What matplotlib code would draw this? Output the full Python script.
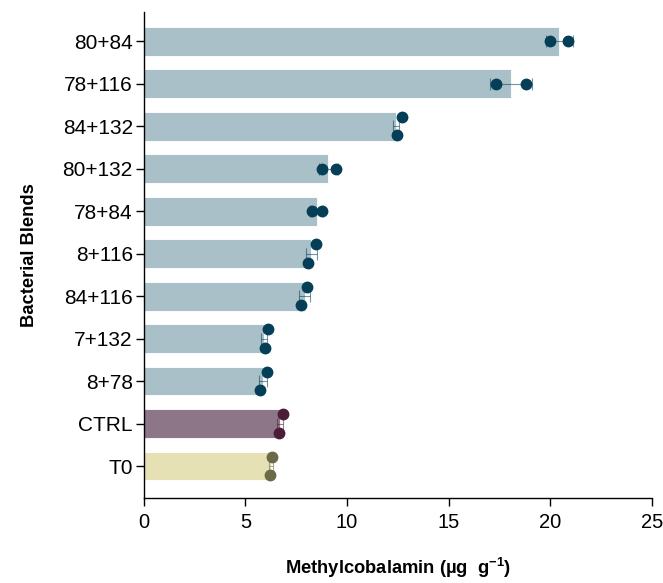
import numpy as np
import matplotlib
matplotlib.use('agg')
from matplotlib import pyplot as plt

plt.rcParams['font.family'] = ['Liberation Sans', 'DejaVu Sans']
plt.rcParams['mathtext.fontset'] = 'custom'
plt.rcParams['mathtext.bf'] = 'Liberation Sans:bold'
plt.rcParams['mathtext.rm'] = 'Liberation Sans'
plt.rcParams['mathtext.default'] = 'bf'

# blends, top to bottom
blends = ['80+84', '78+116', '84+132', '80+132', '78+84', '8+116',
          '84+116', '7+132', '8+78', 'CTRL', 'T0']
means = [20.45, 18.06, 12.4, 9.08, 8.5, 8.25, 7.92, 5.9, 5.87, 6.72, 6.27]
sds = [0.65, 1.03, 0.15, 0.48, 0.3, 0.25, 0.27, 0.15, 0.2, 0.15, 0.1]
rep1 = [19.98, 17.32, 12.46, 8.77, 8.27, 8.07, 7.73, 5.94, 5.74, 6.66, 6.2]
rep2 = [20.87, 18.8, 12.7, 9.45, 8.77, 8.46, 8.05, 6.1, 6.05, 6.86, 6.31]

bar_col = {'blend': '#a9c0c8', 'CTRL': '#8c7687', 'T0': '#e5e1b5'}
dot_col = {'blend': '#053f57', 'CTRL': '#4b1d38', 'T0': '#6b6a48'}

fig, ax = plt.subplots(figsize=(6.63, 5.83), dpi=100)
fig.subplots_adjust(left=0.217, right=0.983, top=0.979, bottom=0.146)

n = len(blends)
ypos = np.arange(n)[::-1]
for i, name in enumerate(blends):
    key = name if name in ('CTRL', 'T0') else 'blend'
    y = ypos[i]
    ax.barh(y, means[i], height=0.68, color=bar_col[key],
            edgecolor='white', linewidth=0.6, zorder=1)
    ax.errorbar(means[i], y, xerr=sds[i], fmt='none', ecolor=dot_col[key],
                elinewidth=0.8, capsize=4, capthick=0.8, alpha=0.55, zorder=2)
    lo, hi = sorted([rep1[i], rep2[i]])
    # nudge overlapping replicates apart vertically
    dy = 0.22 if hi - lo < 0.45 else 0.0
    ax.plot([lo, hi], [y - dy, y + dy], 'o', color=dot_col[key],
            markersize=7.5, zorder=3, linestyle='none')

ax.set_yticks(ypos)
ax.set_yticklabels(blends, fontsize=15)
ax.set_ylim(-0.75, n - 1 + 0.68)
ax.set_xlim(0, 25)
ax.set_xticks([0, 5, 10, 15, 20, 25])
ax.tick_params(axis='x', labelsize=14.5, length=6, width=1, pad=5)
ax.tick_params(axis='y', length=6, width=1, pad=2)
for s in ('top', 'right'):
    ax.spines[s].set_visible(False)
for s in ('left', 'bottom'):
    ax.spines[s].set_linewidth(1)

ax.set_xlabel('Methylcobalamin (µg  g$^{-1}$)', fontsize=13.2,
              fontweight='bold', labelpad=17)
ax.set_ylabel('Bacterial Blends', fontsize=13.2, fontweight='bold', labelpad=18)

plt.savefig('out.png', dpi=100)
